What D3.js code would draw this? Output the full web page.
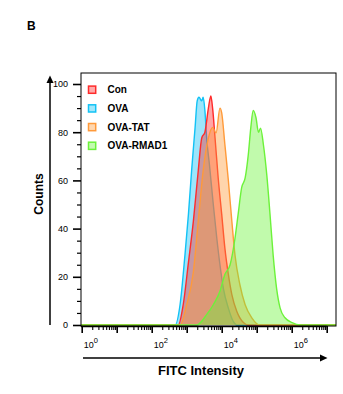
<!DOCTYPE html>
<html>
<head>
<meta charset="utf-8">
<script src="https://cdn.jsdelivr.net/npm/d3@7"></script>
<style>
  body { margin: 0; background: #fff; }
  svg { display: block; font-family: Arial, "Liberation Sans", sans-serif; }
</style>
</head>
<body>
<div id="chart"></div>
<script>
// legend order
const seriesNames = ['Con', 'OVA', 'OVA-TAT', 'OVA-RMAD1'];

// histogram points: log10(FITC intensity) and counts
const conLog = [2.76, 2.90, 3.05, 3.19, 3.33, 3.43, 3.52, 3.62, 3.69, 3.74, 3.81, 3.90, 4.00, 4.09, 4.19, 4.29, 4.43, 4.62, 4.75];
const conCounts = [0, 8.4, 26, 43, 64, 77.6, 80, 90, 95, 90, 77.6, 61, 46, 32, 21, 12.6, 5.7, 1, 0];

const ovaLog = [2.67, 2.81, 2.95, 3.05, 3.14, 3.24, 3.30, 3.35, 3.43, 3.47, 3.52, 3.57, 3.65, 3.76, 3.86, 3.95, 4.05, 4.19, 4.33, 4.43];
const ovaCounts = [0, 8.4, 29, 46, 64, 82, 93, 94.5, 93, 94.5, 89, 77.6, 66.5, 50, 36, 25, 15, 7, 1.5, 0];

const tatLog = [2.81, 3.00, 3.19, 3.33, 3.47, 3.62, 3.74, 3.84, 3.95, 4.00, 4.09, 4.19, 4.29, 4.38, 4.52, 4.67, 4.86, 5.09];
const tatCounts = [0, 8.4, 22, 43, 64, 77.6, 82, 79.7, 90, 88, 75, 60, 43, 29, 16.7, 8.4, 3, 0];

const rmadLog = [3.29, 3.57, 3.76, 3.95, 4.09, 4.24, 4.38, 4.47, 4.57, 4.67, 4.76, 4.83, 4.90, 4.98, 5.05, 5.11, 5.19, 5.29, 5.38, 5.47, 5.57, 5.67, 5.81, 6.01, 6.24];
const rmadCounts = [0, 4.3, 8.4, 14, 21, 25, 36, 46, 57, 61, 70.7, 81.7, 89, 86, 80, 81.7, 75, 62, 46, 29, 15, 7, 3, 1, 0];

const yMajorTicks = [0, 20, 40, 60, 80, 100];
const xDecades = [1, 10, 100, 1000, 10000, 100000, 1000000, 10000000];
const xLabelExps = [0, 2, 4, 6];

const width = 343, height = 394;
const frame = { left: 81, top: 73, right: 336, bottom: 326 };

const colors = {
  'Con': { stroke: '#ff2b2b', fill: '#ff2b2b' },
  'OVA': { stroke: '#12c2f5', fill: '#12c2f5' },
  'OVA-TAT': { stroke: '#ff9a3a', fill: '#ff9a3a' },
  'OVA-RMAD1': { stroke: '#6cf23a', fill: '#6cf23a' }
};

const series = {
  'Con': conLog.map((e, i) => ({ v: Math.pow(10, e), c: conCounts[i] })),
  'OVA': ovaLog.map((e, i) => ({ v: Math.pow(10, e), c: ovaCounts[i] })),
  'OVA-TAT': tatLog.map((e, i) => ({ v: Math.pow(10, e), c: tatCounts[i] })),
  'OVA-RMAD1': rmadLog.map((e, i) => ({ v: Math.pow(10, e), c: rmadCounts[i] }))
};

const svg = d3.select('#chart').append('svg')
  .attr('width', width)
  .attr('height', height);

const x = d3.scaleLog()
  .domain([1, 1e7])
  .range([81.7, 326.7]);

const y = d3.scaleLinear()
  .domain([0, 100])
  .range([325, 84]);

const xMin = x.invert(frame.left);
const xMax = x.invert(frame.right);

// panel letter
svg.append('text')
  .attr('x', 27)
  .attr('y', 30)
  .attr('font-size', 12)
  .attr('font-weight', 'bold')
  .text('B');

// histograms, drawn back to front
const area = d3.area()
  .x(d => x(d.v))
  .y0(y(0))
  .y1(d => y(d.c))
  .curve(d3.curveMonotoneX);

const line = d3.line()
  .x(d => x(d.v))
  .y(d => y(d.c))
  .curve(d3.curveMonotoneX);

const drawOrder = ['OVA', 'Con', 'OVA-TAT', 'OVA-RMAD1'];
const plot = svg.append('g');

drawOrder.forEach(name => {
  const pts = [{ v: xMin, c: 0 }].concat(series[name], [{ v: xMax, c: 0 }]);
  plot.append('path')
    .datum(pts)
    .attr('fill', colors[name].fill)
    .attr('fill-opacity', 0.42)
    .attr('d', area);
  plot.append('path')
    .datum(pts)
    .attr('fill', 'none')
    .attr('stroke', colors[name].stroke)
    .attr('stroke-width', 1.4)
    .attr('stroke-linejoin', 'round')
    .attr('d', line);
});

// frame
svg.append('rect')
  .attr('x', frame.left)
  .attr('y', frame.top)
  .attr('width', frame.right - frame.left)
  .attr('height', frame.bottom - frame.top)
  .attr('fill', 'none')
  .attr('stroke', '#000')
  .attr('stroke-width', 1);

// Y axis
const yAxis = svg.append('g')
  .attr('transform', `translate(${frame.left},0)`)
  .call(d3.axisLeft(y).tickValues(yMajorTicks).tickSize(8).tickPadding(5));
yAxis.select('.domain').remove();
yAxis.selectAll('line').attr('stroke-width', 1.6);
yAxis.selectAll('text').attr('font-size', 9).attr('font-family', 'Arial, "Liberation Sans", sans-serif').attr('fill', '#000');

const yMinor = d3.range(5, 100, 5).filter(v => v % 20 !== 0);
const yAxisMinor = svg.append('g')
  .attr('transform', `translate(${frame.left},0)`)
  .call(d3.axisLeft(y).tickValues(yMinor).tickSize(4).tickFormat(''));
yAxisMinor.select('.domain').remove();
yAxisMinor.selectAll('line').attr('stroke-width', 1.2);

// X axis
const xAxis = svg.append('g')
  .attr('transform', `translate(0,${frame.bottom})`)
  .call(d3.axisBottom(x).tickValues(xDecades).tickSize(7).tickFormat(''));
xAxis.select('.domain').remove();
xAxis.selectAll('line').attr('stroke-width', 1.6);

const xMinor = [];
xDecades.slice(0, -1).forEach(d => { for (let k = 2; k <= 9; k++) xMinor.push(d * k); });
const xAxisMinor = svg.append('g')
  .attr('transform', `translate(0,${frame.bottom})`)
  .call(d3.axisBottom(x).tickValues(xMinor).tickSize(4).tickFormat(''));
xAxisMinor.select('.domain').remove();
xAxisMinor.selectAll('line').attr('stroke-width', 1.1);

svg.append('line')
  .attr('x1', frame.left).attr('x2', x(1e7))
  .attr('y1', frame.bottom + 0.5).attr('y2', frame.bottom + 0.5)
  .attr('stroke', '#000').attr('stroke-width', 1.4);

const xLabels = svg.append('g');
xLabelExps.forEach(e => {
  const t = xLabels.append('text')
    .attr('x', x(Math.pow(10, e)) + 2)
    .attr('y', 347.5)
    .attr('font-size', 9);
  t.append('tspan').text('10');
  t.append('tspan').attr('font-size', 7.5).attr('dy', -5).text(e);
});

// axis titles
svg.append('text')
  .attr('x', 201)
  .attr('y', 375)
  .attr('text-anchor', 'middle')
  .attr('font-size', 13)
  .attr('font-weight', 'bold')
  .text('FITC Intensity');

svg.append('text')
  .attr('transform', 'translate(42.5,194) rotate(-90)')
  .attr('text-anchor', 'middle')
  .attr('font-size', 12)
  .attr('font-weight', 'bold')
  .text('Counts');

// arrows
svg.append('line')
  .attr('x1', 50).attr('x2', 50)
  .attr('y1', 325).attr('y2', 82)
  .attr('stroke', '#000').attr('stroke-width', 1.5);
svg.append('path')
  .attr('d', 'M50,75.5 L46.5,83 L53.5,83 Z')
  .attr('fill', '#000');

svg.append('line')
  .attr('x1', 83).attr('x2', 320)
  .attr('y1', 358).attr('y2', 358)
  .attr('stroke', '#000').attr('stroke-width', 1.5);
svg.append('path')
  .attr('d', 'M327.5,358 L320,354.5 L320,361.5 Z')
  .attr('fill', '#000');

// legend
const legend = svg.append('g');
seriesNames.forEach((name, i) => {
  const cy = 89.7 + i * 18.7;
  legend.append('rect')
    .attr('x', 88.5)
    .attr('y', cy - 3.6)
    .attr('width', 7.2)
    .attr('height', 7.2)
    .attr('fill', colors[name].fill)
    .attr('fill-opacity', 0.4)
    .attr('stroke', colors[name].stroke)
    .attr('stroke-width', 1.5);
  legend.append('text')
    .attr('x', 107.5)
    .attr('y', cy)
    .attr('dy', '0.35em')
    .attr('font-size', 10)
    .attr('font-weight', 'bold')
    .text(name);
});
</script>
</body>
</html>
